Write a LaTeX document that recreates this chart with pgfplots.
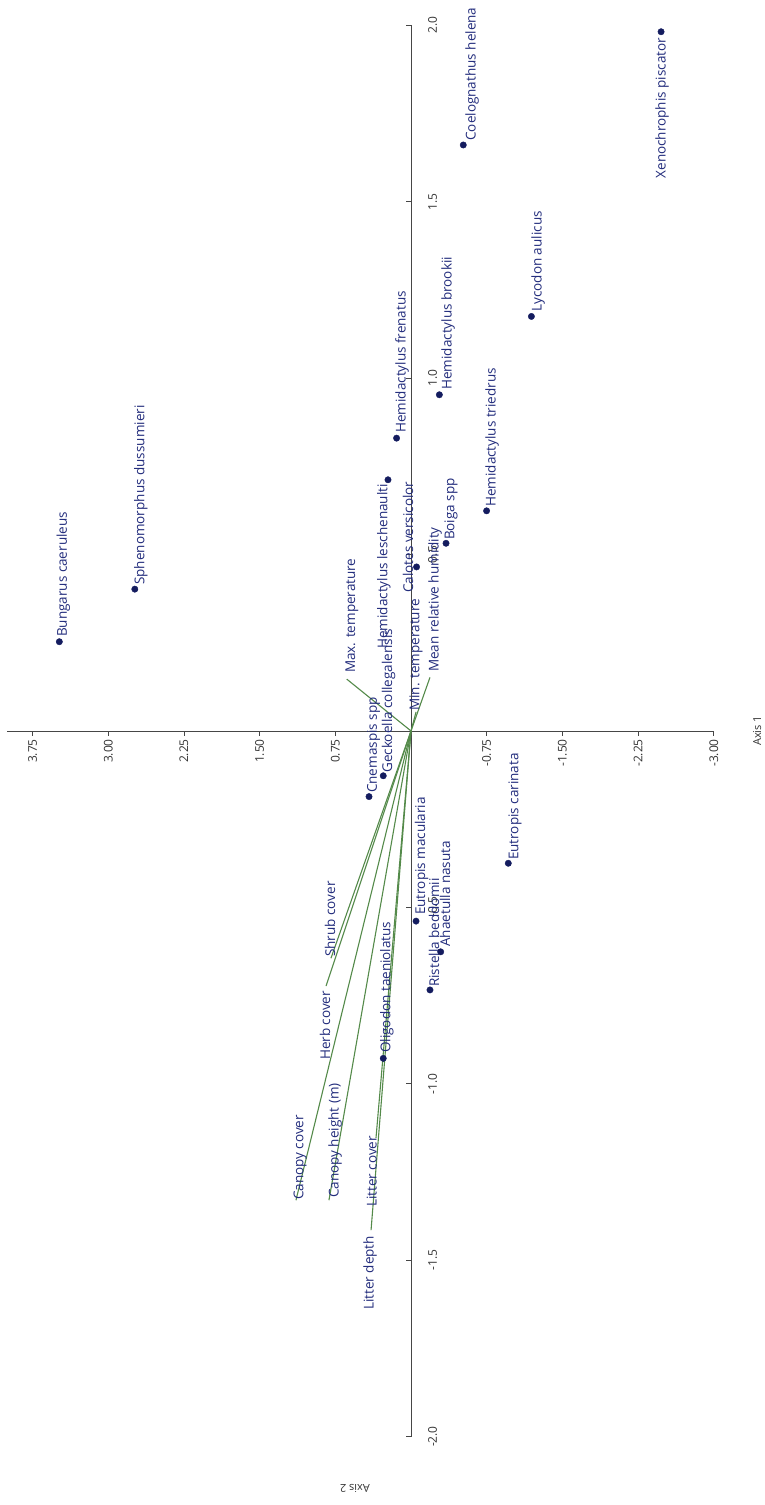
\documentclass[border=0pt]{standalone}
\usepackage{fontspec}
\setmainfont{Open Sans}
\usepackage{pgfplots}
\usepackage{pgfplotstable}
\pgfplotsset{compat=1.18}

\definecolor{taxonblue}{RGB}{34,44,124}
\definecolor{dotblue}{RGB}{20,28,95}
\definecolor{vecgreen}{RGB}{84,138,74}
\definecolor{axisgray}{RGB}{70,70,70}

\tikzset{lab/.style={rotate=90, text=taxonblue, font=\fontsize{13.5}{15}\selectfont, inner sep=0pt}}

% CCA scores of the species (Axis 1, Axis 2)
\pgfplotstableread{
v      w
-2.478  1.982
-0.518  1.661
-1.193  1.175
 0.143  0.830
-0.281  0.953
-0.749  0.624
 0.228  0.712
-0.347  0.532
-0.055  0.465
 3.485  0.253
 2.737  0.402
 0.416 -0.186
 0.275 -0.127
-0.964 -0.375
-0.050 -0.539
-0.188 -0.734
-0.294 -0.626
 0.275 -0.928
}\species

\begin{document}
\begin{tikzpicture}
\begin{axis}[
  x=100.9pt, y=352.75pt,
  x dir=reverse,
  xmin=-3, xmax=4.0, ymin=-2, ymax=2,
  axis lines=middle,
  axis line style={-, draw=axisgray, line width=0.9pt},
  clip=false,
  xtick={-3,-2.25,-1.5,-0.75,0.75,1.5,2.25,3,3.75},
  xticklabels={-3.00,-2.25,-1.50,-0.75,0.75,1.50,2.25,3.00,3.75},
  ytick={-2,-1.5,-1,-0.5,0.5,1,1.5,2},
  yticklabels={-2.0,-1.5,-1.0,-0.5,0.5,1.0,1.5,2.0},
  xtick align=outside,
  ytick align=inside,
  major tick length=5pt,
  tick style={draw=axisgray, line width=0.9pt},
  xticklabel style={rotate=90, anchor=east, font=\fontsize{12}{14}\selectfont, text=black!80, inner sep=3pt},
  yticklabel style={xshift=14pt, rotate=90, anchor=north, font=\fontsize{12}{14}\selectfont, text=black!80, inner sep=3pt},
]
% frame of the page
\path (axis cs:4.073,2.072) rectangle (axis cs:-3.489,-2.194);

% environmental vectors
\addplot[vecgreen, line width=1.1pt] coordinates {(0,0) (0.637,0.147)};
\addplot[vecgreen, line width=1.1pt] coordinates {(0,0) (-0.050,0.054)};
\addplot[vecgreen, line width=1.1pt] coordinates {(0,0) (-0.188,0.152)};
\addplot[vecgreen, line width=1.1pt] coordinates {(0,0) (0.793,-0.644)};
\addplot[vecgreen, line width=1.1pt] coordinates {(0,0) (0.842,-0.723)};
\addplot[vecgreen, line width=1.1pt] coordinates {(0,0) (1.140,-1.330)};
\addplot[vecgreen, line width=1.1pt] coordinates {(0,0) (0.813,-1.330)};
\addplot[vecgreen, line width=1.1pt] coordinates {(0,0) (0.347,-1.154)};
\addplot[vecgreen, line width=1.1pt] coordinates {(0,0) (0.396,-1.415)};

% species scores
\addplot[only marks, mark=*, mark size=3.2pt, dotblue] table[x=v, y=w] {\species};

% vector labels
\node[lab, anchor=west] at (axis cs:0.585,0.164) {Max. temperature};
\node[lab, anchor=west] at (axis cs:-0.050,0.057) {Min. temperature};
\node[lab, anchor=west] at (axis cs:-0.238,0.167) {Mean relative humidity};
\node[lab, anchor=west] at (axis cs:0.803,-0.641) {Shrub cover};
\node[lab, anchor=west] at (axis cs:0.852,-0.933) {Herb cover};
\node[lab, anchor=west] at (axis cs:1.100,-1.330) {Canopy cover};
\node[lab, anchor=west] at (axis cs:0.753,-1.324) {Canopy height (m)};
\node[lab, anchor=west] at (axis cs:0.389,-1.349) {Litter cover};
\node[lab, anchor=west] at (axis cs:0.406,-1.641) {Litter depth};

% species labels
\node[lab, anchor=east] at (axis cs:-2.488,1.965) {Xenochrophis piscator};
\node[lab, anchor=west] at (axis cs:-0.605,1.673) {Coelognathus helena};
\node[lab, anchor=west] at (axis cs:-1.259,1.188) {Lycodon aulicus};
\node[lab, anchor=west] at (axis cs:0.089,0.845) {Hemidactylus frenatus};
\node[lab, anchor=west] at (axis cs:-0.367,0.967) {Hemidactylus brookii};
\node[lab, anchor=west] at (axis cs:-0.803,0.635) {Hemidactylus triedrus};
\node[lab, anchor=east] at (axis cs:0.268,0.700) {Hemidactylus leschenaulti};
\node[lab, anchor=west] at (axis cs:-0.396,0.541) {Boiga spp};
\node[lab, anchor=west] at (axis cs:0.030,0.391) {Calotes versicolor};
\node[lab, anchor=west] at (axis cs:3.444,0.266) {Bungarus caeruleus};
\node[lab, anchor=west] at (axis cs:2.676,0.414) {Sphenomorphus dussumieri};
\node[lab, anchor=west] at (axis cs:0.372,-0.176) {Cnemaspis spp};
\node[lab, anchor=west] at (axis cs:0.223,-0.119) {Geckoella collegalensis};
\node[lab, anchor=west] at (axis cs:-1.031,-0.366) {Eutropis carinata};
\node[lab, anchor=west] at (axis cs:-0.104,-0.522) {Eutropis macularia};
\node[lab, anchor=west] at (axis cs:-0.228,-0.726) {Ristella beddomii};
\node[lab, anchor=west] at (axis cs:-0.337,-0.612) {Ahaetulla nasuta};
\node[lab, anchor=west] at (axis cs:0.238,-0.913) {Oligodon taeniolatus};

% axis titles
\node[rotate=90, font=\fontsize{11}{13}\selectfont, text=black!80] at (axis cs:-3.429,0) {Axis 1};
\node[rotate=180, font=\fontsize{11}{13}\selectfont, text=black!80] at (axis cs:0.555,-2.147) {Axis 2};
\end{axis}
\end{tikzpicture}
\end{document}
